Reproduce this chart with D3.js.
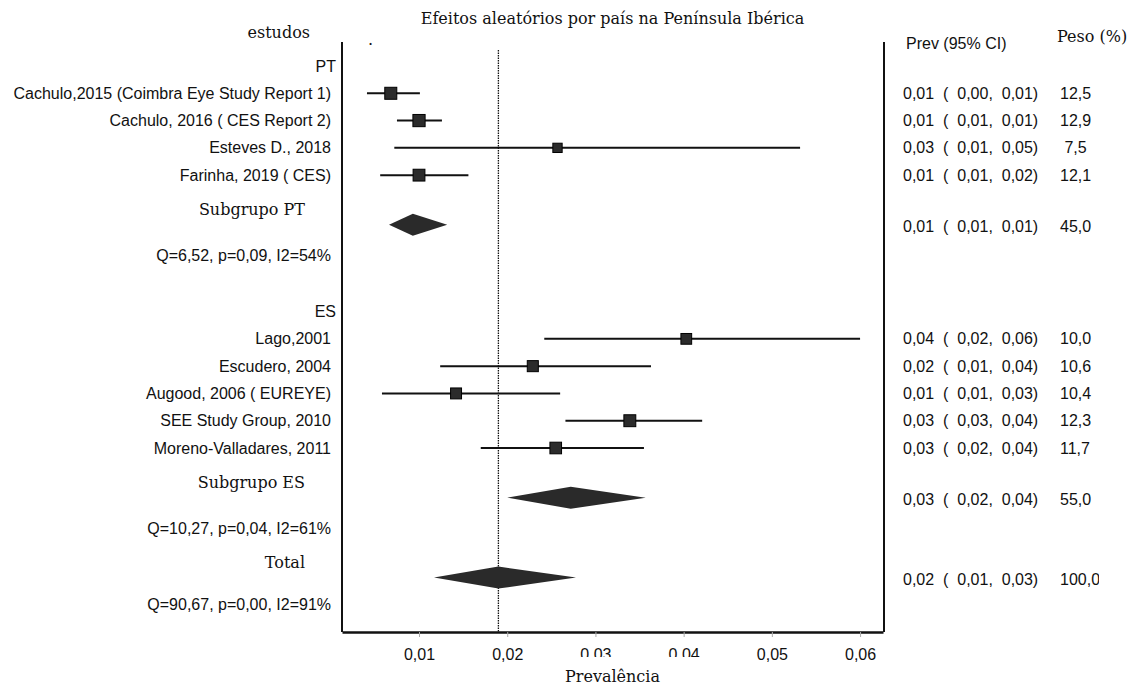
<!DOCTYPE html>
<html>
<head>
<meta charset="utf-8">
<script src="https://cdn.jsdelivr.net/npm/d3@7"></script>
<style>
  body { margin: 0; background: #fff; }
  .sans { font-family: "Liberation Sans", Arial, sans-serif; font-size: 16px; fill: #111; }
  .serif { font-family: "DejaVu Serif", Georgia, serif; font-size: 16px; fill: #111; }
</style>
</head>
<body>
<div id="chart"></div>
<script>
// data
const groupNames = ["PT", "ES"];
const studies = ["Cachulo,2015 (Coimbra Eye Study Report 1)", "Cachulo, 2016 ( CES Report 2)", "Esteves D., 2018",
  "Farinha, 2019 ( CES)", "Lago,2001", "Escudero, 2004", "Augood, 2006 ( EUREYE)", "SEE Study Group, 2010",
  "Moreno-Valladares, 2011"];
const studyGroup = ["PT", "PT", "PT", "PT", "ES", "ES", "ES", "ES", "ES"];
const est = [0.0068, 0.0100, 0.0257, 0.0100, 0.0403, 0.0229, 0.0142, 0.0339, 0.0255];
const lo = [0.0041, 0.0075, 0.0072, 0.0056, 0.0242, 0.0124, 0.0058, 0.0266, 0.0170];
const hi = [0.0101, 0.0126, 0.0532, 0.0156, 0.0600, 0.0363, 0.0260, 0.0421, 0.0355];
const weights = [12.5, 12.9, 7.5, 12.1, 10.0, 10.6, 10.4, 12.3, 11.7];
const ciText = ["0,01  (  0,00,  0,01)", "0,01  (  0,01,  0,01)", "0,03  (  0,01,  0,05)", "0,01  (  0,01,  0,02)",
  "0,04  (  0,02,  0,06)", "0,02  (  0,01,  0,04)", "0,01  (  0,01,  0,03)", "0,03  (  0,03,  0,04)",
  "0,03  (  0,02,  0,04)"];
const weightText = ["12,5", "12,9", " 7,5", "12,1", "10,0", "10,6", "10,4", "12,3", "11,7"];

const summaryLabels = ["Subgrupo PT", "Subgrupo ES", "Total"];
const summaryEst = [0.0093, 0.0272, 0.0190];
const summaryLo = [0.0066, 0.0200, 0.0117];
const summaryHi = [0.0132, 0.0357, 0.0278];
const summaryCI = ["0,01  (  0,01,  0,01)", "0,03  (  0,02,  0,04)", "0,02  (  0,01,  0,03)"];
const summaryWeight = ["45,0", "55,0", "100,0"];
const heterogeneity = ["Q=6,52, p=0,09, I2=54%", "Q=10,27, p=0,04, I2=61%", "Q=90,67, p=0,00, I2=91%"];

const xTicks = [0.01, 0.02, 0.03, 0.04, 0.05, 0.06];
const pooled = 0.0190;

const width = 1135, height = 688;
const axisY = 632;

const x = d3.scaleLinear().domain([0.00127, 0.0626]).range([342, 883]);
// one unit = one study row
const y = d3.scaleLinear().domain([0, 14]).range([66, 448]);
const side = d3.scaleSqrt().domain([0, 12.9]).range([0, 12.2]);

// work out the row slots
const studySlot = [], groupSlot = [], summarySlot = [], hetSlot = [];
let slot = 0;
groupNames.forEach((g, gi) => {
  groupSlot[gi] = slot;
  const idx = studyGroup.map((s, i) => s === g ? i : -1).filter(i => i >= 0);
  idx.forEach((i, k) => studySlot[i] = slot + 1 + k);
  const last = slot + idx.length;
  summarySlot[gi] = last + 1.82;
  hetSlot[gi] = last + 2.95;
  slot = last + 5;
});
summarySlot.push(hetSlot[hetSlot.length - 1] + 1.8);
hetSlot.push(summarySlot[summarySlot.length - 1] + 1.0);

const svg = d3.select("#chart").append("svg")
  .attr("width", width).attr("height", height);

// frame lines
svg.append("line").attr("x1", 342).attr("x2", 342).attr("y1", 42).attr("y2", axisY)
  .attr("stroke", "#111").attr("stroke-width", 2);
svg.append("line").attr("x1", 884).attr("x2", 884).attr("y1", 42).attr("y2", axisY)
  .attr("stroke", "#111").attr("stroke-width", 2);

// pooled estimate dotted line
svg.append("line").attr("x1", x(pooled)).attr("x2", x(pooled)).attr("y1", 50).attr("y2", axisY)
  .attr("stroke", "#111").attr("stroke-width", 1.3).attr("stroke-dasharray", "1.5,1");

// axis
const xAxis = d3.axisBottom(x).tickValues(xTicks)
  .tickFormat(d => d3.format(".2f")(d).replace(".", ","))
  .tickSizeInner(5).tickSizeOuter(0).tickPadding(12);
const gx = svg.append("g").attr("transform", `translate(0,${axisY})`).call(xAxis);
gx.select(".domain").attr("stroke", "#111").attr("stroke-width", 2.5);
gx.selectAll(".tick line").attr("stroke", "#aaa");
gx.selectAll(".tick text").attr("class", "sans").style("font-size", "16px").attr("fill", "#111");
// the 0,03 and 0,04 labels are cut off at the bottom in the original
svg.append("rect").attr("x", x(0.0265)).attr("y", 657).attr("width", x(0.0445) - x(0.0265)).attr("height", 8)
  .attr("fill", "#fff");

svg.append("text").attr("class", "serif").attr("x", (x.range()[0] + x.range()[1]) / 2).attr("y", 682)
  .attr("text-anchor", "middle").text("Prevalência");

// titles
svg.append("text").attr("class", "serif").attr("x", (x.range()[0] + x.range()[1]) / 2).attr("y", 24)
  .attr("text-anchor", "middle").text("Efeitos aleatórios por país na Península Ibérica");
svg.append("text").attr("class", "serif").attr("x", 310).attr("y", 38).attr("text-anchor", "end").text("estudos");
svg.append("text").attr("class", "serif").attr("x", 368).attr("y", 45).text(".");
svg.append("text").attr("class", "sans").attr("x", 906).attr("y", 49).text("Prev (95% CI)");
svg.append("text").attr("class", "serif").attr("x", 1057).attr("y", 42).text("Peso (%)");

// group headers
svg.selectAll("text.group").data(groupNames).enter().append("text")
  .attr("class", "sans group").attr("x", 336).attr("y", (d, i) => y(groupSlot[i]))
  .attr("dy", "0.35em").attr("text-anchor", "end").text(d => d);

// study labels
svg.selectAll("text.study").data(studies).enter().append("text")
  .attr("class", "sans study").attr("x", 331).attr("y", (d, i) => y(studySlot[i]))
  .attr("dy", "0.35em").attr("text-anchor", "end").text(d => d);

// CI whiskers
svg.selectAll("line.ci").data(studies).enter().append("line")
  .attr("class", "ci")
  .attr("x1", (d, i) => x(lo[i])).attr("x2", (d, i) => x(hi[i]))
  .attr("y1", (d, i) => y(studySlot[i])).attr("y2", (d, i) => y(studySlot[i]))
  .attr("stroke", "#111").attr("stroke-width", 2);

// weight squares
svg.selectAll("rect.box").data(studies).enter().append("rect")
  .attr("class", "box")
  .attr("x", (d, i) => x(est[i]) - side(weights[i]) / 2)
  .attr("y", (d, i) => y(studySlot[i]) - side(weights[i]) / 2)
  .attr("width", (d, i) => side(weights[i])).attr("height", (d, i) => side(weights[i]))
  .attr("fill", "#2b2b2b").attr("stroke", "#000").attr("stroke-width", 1);

// right columns for studies
svg.selectAll("text.ciText").data(ciText).enter().append("text")
  .attr("class", "sans ciText").attr("x", 903).attr("y", (d, i) => y(studySlot[i]))
  .attr("dy", "0.35em").style("white-space", "pre").text(d => d);
svg.selectAll("text.wText").data(weightText).enter().append("text")
  .attr("class", "sans wText").attr("x", 1060).attr("y", (d, i) => y(studySlot[i]))
  .attr("dy", "0.35em").style("white-space", "pre").text(d => d);

// summary diamonds
svg.selectAll("path.diamond").data(summaryLabels).enter().append("path")
  .attr("class", "diamond")
  .attr("d", (d, i) => {
    const yc = y(summarySlot[i]);
    return `M${x(summaryLo[i])},${yc}L${x(summaryEst[i])},${yc - 11}L${x(summaryHi[i])},${yc}L${x(summaryEst[i])},${yc + 11}Z`;
  })
  .attr("fill", "#2a2a2a");

svg.selectAll("text.sumLabel").data(summaryLabels).enter().append("text")
  .attr("class", "serif sumLabel").attr("x", 305).attr("y", (d, i) => y(summarySlot[i]) - 15)
  .attr("dy", "0.35em").attr("text-anchor", "end").text(d => d);
svg.selectAll("text.sumCI").data(summaryCI).enter().append("text")
  .attr("class", "sans sumCI").attr("x", 903).attr("y", (d, i) => y(summarySlot[i]) + 2)
  .attr("dy", "0.35em").style("white-space", "pre").text(d => d);
svg.selectAll("text.sumW").data(summaryWeight).enter().append("text")
  .attr("class", "sans sumW").attr("x", 1060).attr("y", (d, i) => y(summarySlot[i]) + 2)
  .attr("dy", "0.35em").text(d => d);

// heterogeneity lines
svg.selectAll("text.het").data(heterogeneity).enter().append("text")
  .attr("class", "sans het").attr("x", 331).attr("y", (d, i) => y(hetSlot[i]))
  .attr("dy", "0.35em").attr("text-anchor", "end").text(d => d);

// "100,0" is clipped in the original
svg.append("rect").attr("x", 1099).attr("y", y(summarySlot[2]) - 12).attr("width", 20).attr("height", 26)
  .attr("fill", "#fff");
</script>
</body>
</html>
